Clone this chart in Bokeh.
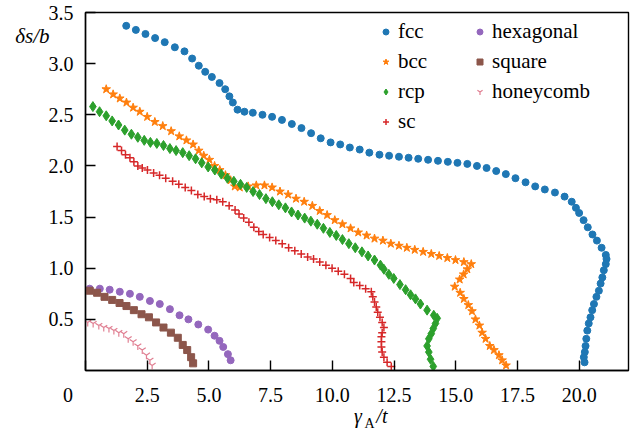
from bokeh.plotting import figure
from bokeh.models import (Range1d, FixedTicker, NumeralTickFormatter, Legend, LegendItem,
                          LinearAxis)
from bokeh.embed import file_html
from bokeh.resources import INLINE

# ---------------- data ----------------
fcc_x = [1.65, 2.04, 2.43, 2.82, 3.21, 3.62, 4.01, 4.32, 4.59, 4.85, 5.12, 5.43, 5.66, 5.83, 5.97,
         6.16, 6.44, 6.78, 7.17, 7.56, 7.96, 8.36, 8.75, 9.14, 9.53, 9.93, 10.32, 10.71, 11.11, 11.50,
         11.91, 12.30, 12.70, 13.09, 13.48, 13.88, 14.28, 14.68, 15.07, 15.47, 15.86, 16.25, 16.64,
         17.03, 17.42, 17.83, 18.22, 18.61, 19.02, 19.41, 19.70, 19.87, 20.00, 20.18, 20.35, 20.54,
         20.72, 20.91, 21.08, 21.11, 21.08, 21.00, 20.94, 20.87, 20.80, 20.70, 20.60, 20.53, 20.46,
         20.39, 20.33, 20.29, 20.26, 20.23, 20.19, 20.22]
fcc_y = [3.37, 3.33, 3.29, 3.25, 3.21, 3.16, 3.12, 3.05, 2.98, 2.92, 2.87, 2.81, 2.75, 2.68, 2.62,
         2.55, 2.53, 2.52, 2.50, 2.48, 2.45, 2.41, 2.37, 2.32, 2.27, 2.23, 2.21, 2.18, 2.16, 2.13,
         2.11, 2.10, 2.09, 2.08, 2.07, 2.06, 2.05, 2.04, 2.03, 2.02, 2.00, 1.98, 1.95,
         1.92, 1.88, 1.84, 1.80, 1.77, 1.74, 1.70, 1.65, 1.59, 1.54, 1.47, 1.40, 1.33,
         1.27, 1.20, 1.13, 1.09, 1.04, 0.98, 0.91, 0.85, 0.78, 0.72, 0.65, 0.59, 0.52,
         0.46, 0.39, 0.31, 0.24, 0.18, 0.13, 0.08]

bcc_x = [0.84, 1.12, 1.39, 1.66, 1.93, 2.20, 2.50, 2.81, 3.13, 3.47, 3.80, 4.09, 4.36, 4.59, 4.79,
         5.02, 5.23, 5.44, 5.67, 5.88, 6.05, 6.25, 6.59, 6.92, 7.25, 7.56, 7.88, 8.21, 8.53, 8.86,
         9.19, 9.49, 9.79, 10.10, 10.41, 10.74, 11.05, 11.39, 11.71, 12.05, 12.37, 12.70, 13.02,
         13.34, 13.68, 14.01, 14.33, 14.66, 14.99, 15.33, 15.63, 15.47, 15.32, 15.16, 14.96, 15.18,
         15.33, 15.51, 15.66, 15.80, 15.96, 16.07, 16.21, 16.38, 16.55, 16.75, 16.88, 17.04]
bcc_y = [2.75, 2.70, 2.66, 2.62, 2.57, 2.53, 2.48, 2.43, 2.39, 2.34, 2.29, 2.25, 2.21, 2.15, 2.10,
         2.06, 2.00, 1.96, 1.91, 1.86, 1.80, 1.79, 1.80, 1.81, 1.81, 1.79, 1.75, 1.72, 1.68, 1.65,
         1.61, 1.56, 1.52, 1.47, 1.43, 1.39, 1.35, 1.32, 1.29, 1.27, 1.24, 1.22, 1.20,
         1.18, 1.16, 1.14, 1.12, 1.10, 1.08, 1.06, 1.04, 0.99, 0.94, 0.89, 0.82, 0.76,
         0.70, 0.64, 0.58, 0.50, 0.44, 0.37, 0.31, 0.24, 0.20, 0.15, 0.10, 0.05]

rcp_x = [0.30, 0.57, 0.84, 1.08, 1.34, 1.59, 1.86, 2.12, 2.38, 2.63, 2.89, 3.16, 3.42, 3.67, 3.94,
         4.20, 4.46, 4.71, 4.97, 5.24, 5.50, 5.75, 6.01, 6.28, 6.53, 6.79, 7.05, 7.31, 7.57, 7.83,
         8.10, 8.35, 8.61, 8.88, 9.13, 9.39, 9.64, 9.90, 10.16, 10.41, 10.67, 10.93, 11.20, 11.45,
         11.71, 11.95, 12.09, 12.29, 12.49, 12.74, 12.97, 13.17, 13.37, 13.57, 13.84, 14.11, 14.25,
         14.18, 14.09, 14.01, 13.91, 13.84, 13.91, 13.98, 14.09]
rcp_y = [2.58, 2.53, 2.49, 2.44, 2.40, 2.35, 2.31, 2.28, 2.25, 2.23, 2.22, 2.20, 2.17, 2.15, 2.13,
         2.10, 2.07, 2.03, 1.99, 1.96, 1.92, 1.88, 1.85, 1.82, 1.79, 1.75, 1.72, 1.68, 1.65, 1.62,
         1.59, 1.55, 1.52, 1.49, 1.46, 1.43, 1.39, 1.35, 1.32, 1.28, 1.24, 1.20, 1.16, 1.12,
         1.08, 1.03, 0.99, 0.94, 0.90, 0.84, 0.79, 0.74, 0.70, 0.65, 0.59, 0.54, 0.51,
         0.46, 0.41, 0.36, 0.31, 0.24, 0.18, 0.11, 0.04]

sc_x = [1.28, 1.46, 1.62, 1.80, 1.96, 2.12, 2.30, 2.51, 2.76, 3.00, 3.25, 3.53, 3.78, 4.04, 4.29,
        4.55, 4.81, 5.06, 5.32, 5.56, 5.82, 6.06, 6.22, 6.41, 6.62, 6.82, 7.02, 7.20, 7.46, 7.71,
        7.97, 8.23, 8.48, 8.74, 9.00, 9.24, 9.49, 9.74, 9.99, 10.24, 10.49, 10.74, 10.87, 11.11,
        11.35, 11.58, 11.64, 11.71, 11.78, 11.84, 11.93, 12.02, 12.09, 12.02, 11.99, 11.99, 11.99,
        12.02, 12.09, 12.22, 12.39]
sc_y = [2.19, 2.15, 2.11, 2.08, 2.04, 2.00, 1.98, 1.96, 1.93, 1.91, 1.88, 1.85, 1.82, 1.79, 1.76,
        1.72, 1.70, 1.68, 1.67, 1.65, 1.61, 1.57, 1.53, 1.49, 1.45, 1.40, 1.36, 1.33, 1.30, 1.27,
        1.24, 1.20, 1.17, 1.14, 1.11, 1.09, 1.06, 1.03, 1.00, 0.97, 0.94, 0.90, 0.86, 0.83,
        0.80, 0.77, 0.72, 0.67, 0.62, 0.57, 0.52, 0.47, 0.42, 0.37, 0.33, 0.28, 0.23,
        0.18, 0.13, 0.08, 0.04]

hex_x = [0.17, 0.58, 0.98, 1.39, 1.80, 2.20, 2.61, 3.01, 3.42, 3.81, 4.17, 4.57, 4.97, 5.23, 5.43,
         5.58, 5.77, 5.88]
hex_y = [0.80, 0.80, 0.79, 0.77, 0.75, 0.72, 0.68, 0.65, 0.60, 0.54, 0.50, 0.45, 0.40, 0.34, 0.29,
         0.23, 0.16, 0.10]

sq_x = [0.17, 0.47, 0.77, 1.08, 1.38, 1.66, 1.96, 2.27, 2.57, 2.86, 3.16, 3.46, 3.74, 3.94, 4.12,
        4.28, 4.36]
sq_y = [0.78, 0.76, 0.72, 0.69, 0.66, 0.63, 0.59, 0.55, 0.52, 0.47, 0.42, 0.37, 0.32, 0.25, 0.20,
        0.13, 0.07]

hc_x = [0.09, 0.31, 0.54, 0.74, 0.95, 1.15, 1.35, 1.55, 1.73, 1.93, 2.12, 2.30, 2.47, 2.61, 2.70]
hc_y = [0.47, 0.46, 0.44, 0.42, 0.41, 0.39, 0.37, 0.36, 0.31, 0.28, 0.24, 0.20, 0.15, 0.10, 0.05]

x_ticks = [0.0, 2.5, 5.0, 7.5, 10.0, 12.5, 15.0, 17.5, 20.0]
y_ticks = [0.5, 1.0, 1.5, 2.0, 2.5, 3.0, 3.5]
X_MAX, Y_MAX = 22.0, 3.5

FONT = "'Liberation Serif', 'DejaVu Serif', serif"
FL, FR, FT, FB = 85, 628, 12, 370  # frame edges in canvas pixels

p = figure(width=634, height=438, x_range=Range1d(0, X_MAX), y_range=Range1d(0, Y_MAX),
           output_backend="svg", toolbar_location=None,
           min_border_left=FL, min_border_right=634 - FR, min_border_top=FT, min_border_bottom=438 - FB)
p.grid.visible = False
p.outline_line_color = "black"
p.outline_line_width = 1.4
p.background_fill_color = "white"
p.border_fill_color = "white"

for ax in (p.xaxis[0], p.yaxis[0]):
    ax.axis_line_color = "black"
    ax.axis_line_width = 1.4
    ax.major_tick_in = 10
    ax.major_tick_out = 0
    ax.major_tick_line_width = 1.4
    ax.minor_tick_line_color = None
    ax.major_label_text_font = FONT
    ax.major_label_text_font_size = "20px"
    ax.major_label_text_color = "black"
    ax.formatter = NumeralTickFormatter(format="0.0")
p.xaxis[0].ticker = FixedTicker(ticks=x_ticks)
p.yaxis[0].ticker = FixedTicker(ticks=y_ticks)
p.xaxis[0].major_label_standoff = 13
p.yaxis[0].major_label_standoff = 12
# the corner "0" sits left of the origin: pad it with no-break spaces on its right
p.xaxis[0].major_label_overrides = {0.0: "0" + "\u00a0" * 7}

r_fcc = p.scatter(fcc_x, fcc_y, marker="circle", size=7, color="#1f77b4")
r_bcc = p.scatter(bcc_x, bcc_y, marker="star", size=9, color="#ff7f0e")
r_rcp = p.scatter(rcp_x, rcp_y, marker="diamond", size=10, color="#2ca02c")
r_sc = p.scatter(sc_x, sc_y, marker="cross", size=8, line_color="#d62728", line_width=1.5)
r_hex = p.scatter(hex_x, hex_y, marker="circle", size=7, color="#9467bd")
r_sq = p.scatter(sq_x, sq_y, marker="square", size=7, color="#8c564b")
r_hc = p.scatter(hc_x, hc_y, marker="y", size=8, line_color="#e07f92", line_width=1.2)

ROW = 30

def make_legend(items, left_px, top_px):
    h = ROW * len(items)
    lg = Legend(items=items, location=(left_px - FL, FB - top_px - h), orientation="vertical",
                padding=0, margin=0, spacing=0, glyph_width=15, glyph_height=15,
                label_height=ROW, label_standoff=5,
                label_text_font=FONT, label_text_font_size="21px", label_text_color="black",
                border_line_color=None, background_fill_alpha=0)
    return lg

leg1 = make_legend([LegendItem(label="fcc", renderers=[r_fcc]),
                    LegendItem(label="bcc", renderers=[r_bcc]),
                    LegendItem(label="rcp", renderers=[r_rcp]),
                    LegendItem(label="sc", renderers=[r_sc])], 378, 16.5)
leg2 = make_legend([LegendItem(label="hexagonal", renderers=[r_hex]),
                    LegendItem(label="square", renderers=[r_sq]),
                    LegendItem(label="honeycomb", renderers=[r_hc])], 472, 16.5)
p.add_layout(leg1)
p.add_layout(leg2)

# Axis titles drawn as tick labels of extra, line-less axes in the side panels
def text_axis(ticks_labels, standoff, size, style):
    ax = LinearAxis(ticker=FixedTicker(ticks=list(ticks_labels.keys())),
                    major_label_overrides=ticks_labels)
    ax.axis_line_color = None
    ax.major_tick_line_color = None
    ax.minor_tick_line_color = None
    ax.major_tick_in = 0
    ax.major_tick_out = 0
    ax.major_label_standoff = standoff
    ax.major_label_text_font = FONT
    ax.major_label_text_font_size = f"{size}px"
    ax.major_label_text_font_style = style
    ax.major_label_text_color = "black"
    return ax

# x title: γ_A / t
gx, ax_, tx = 11.04, 11.51, 12.01   # label centres along x
p.add_layout(text_axis({gx: "γ", tx: "/t"}, -4, 20, "italic"), "below")
p.add_layout(text_axis({ax_: "A"}, -14, 14, "normal"), "below")
# y title: δs/b (top left)
p.add_layout(text_axis({3.275: "δs/b"}, -4, 21, "italic"), "left")

open("out.html", "w").write(file_html(p, INLINE))
